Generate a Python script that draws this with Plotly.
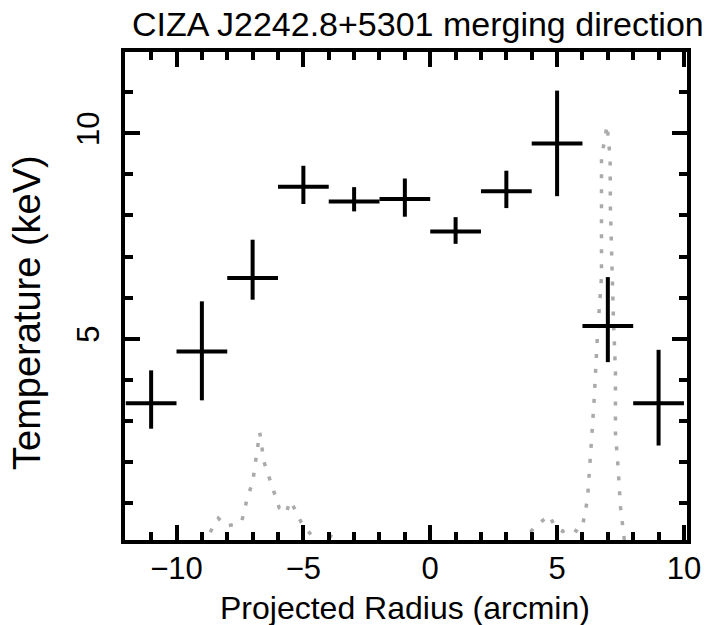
import plotly.graph_objects as go

# Temperature profile (crosses)
radius = [-11, -9, -7, -5, -3, -1, 1, 3, 5, 7, 9]
radius_err = [1, 1, 1, 1, 1, 1, 1, 1, 1, 1, 1]
temp = [3.43, 4.69, 6.48, 8.70, 8.34, 8.40, 7.61, 8.59, 9.75, 5.31, 3.43]
temp_err_plus = [0.80, 1.22, 0.93, 0.51, 0.35, 0.50, 0.35, 0.50, 1.29, 1.19, 1.30]
temp_err_minus = [0.62, 1.19, 0.53, 0.42, 0.24, 0.43, 0.30, 0.41, 1.28, 0.88, 1.03]

# Dotted grey profile (arbitrary units)
prof_x = [-9.0, -8.8, -8.6, -8.35, -8.05, -7.69, -7.43, -7.2, -7.0, -6.85, -6.72,
          -6.55, -6.25, -5.95, -5.7, -5.5, -5.1, -4.6, -4.3, -4.0, -3.7, -3.5,
          None,
          3.6, 3.85, 4.15, 4.70, 4.9, 5.23, 5.52, 5.82, 6.02, 6.2, 6.45, 6.6, 6.75,
          6.75, 6.97, 7.09, 7.1, 7.15, 7.22, 7.3, 7.3, 7.4, 7.5, 7.65, 7.8]
prof_y = [0.0, 0.1, 0.38, 0.63, 0.44, 0.48, 0.55, 1.15, 1.5, 2.2, 2.72,
          2.0, 1.45, 0.88, 0.75, 1.05, 0.55, 0.15, 0.0, 0.22, 0.12, 0.0,
          None,
          0.0, 0.22, 0.44, 0.70, 0.44, 0.31, 0.40, 0.30, 0.50, 1.1, 3.4, 5.2, 6.5,
          9.4, 10.2, 9.4, 8.2, 6.8, 5.5, 4.2, 2.7, 1.9, 0.9, 0.1, 0.0]

x_ticks = [-10, -5, 0, 5, 10]
y_ticks = [5, 10]

FONT = "Liberation Sans, Arial, Helvetica, sans-serif"

fig = go.Figure()

fig.add_trace(go.Scatter(
    x=prof_x, y=prof_y, mode="lines",
    line=dict(color="#aaaaaa", width=3.5, dash="4px,11px"),
    hoverinfo="skip", showlegend=False,
))

fig.add_trace(go.Scatter(
    x=radius, y=temp, mode="markers",
    marker=dict(size=1, color="rgba(0,0,0,0)"),
    error_x=dict(type="data", array=radius_err, color="black", thickness=4, width=0),
    error_y=dict(type="data", symmetric=False, array=temp_err_plus,
                 arrayminus=temp_err_minus, color="black", thickness=4, width=0),
    showlegend=False,
))

L, R, T, B = 125, 31, 52, 85
W, H = 718, 625
pw, ph = W - L - R, H - T - B

fig.update_layout(
    width=W, height=H,
    margin=dict(l=L, r=R, t=T, b=B),
    paper_bgcolor="white", plot_bgcolor="white",
    font=dict(family=FONT, color="black", size=31),
    xaxis=dict(
        range=[-12.03, 10.12], tickvals=x_ticks, ticks="inside", ticklen=15, tickwidth=4,
        tickcolor="black", showline=True, linewidth=4, linecolor="black", mirror="allticks",
        showgrid=False, zeroline=False, automargin=False,
        minor=dict(dtick=1, tick0=0, ticks="inside", ticklen=8, tickwidth=4, tickcolor="black", showgrid=False),
        tickfont=dict(size=31), ticklabelstandoff=-2,
    ),
    yaxis=dict(
        range=[0.1, 11.98], tickvals=y_ticks, ticks="inside", ticklen=15, tickwidth=4,
        tickcolor="black", showline=True, linewidth=4, linecolor="black", mirror="allticks",
        showgrid=False, zeroline=False, tickangle=-90, automargin=False,
        minor=dict(dtick=1, tick0=0, ticks="inside", ticklen=8, tickwidth=4, tickcolor="black", showgrid=False),
        tickfont=dict(size=31), ticklabelstandoff=10,
    ),
    annotations=[
        dict(text="CIZA J2242.8+5301 merging direction", xref="paper", yref="paper",
             x=(418 - L) / pw, y=1 + (T - 24) / ph, xanchor="center", yanchor="middle",
             showarrow=False, font=dict(size=34)),
        dict(text="Temperature (keV)", xref="paper", yref="paper",
             x=-(L - 27) / pw, y=(H - B - 313) / ph, xanchor="center", yanchor="middle",
             textangle=-90, showarrow=False, font=dict(size=38)),
        dict(text="Projected Radius (arcmin)", xref="paper", yref="paper",
             x=(405 - L) / pw, y=-(608 - (H - B)) / ph, xanchor="center", yanchor="middle",
             showarrow=False, font=dict(size=32)),
    ],
)

fig.write_html("out.html", config={"displayModeBar": False},
               post_script="document.body.style.margin='0';")
